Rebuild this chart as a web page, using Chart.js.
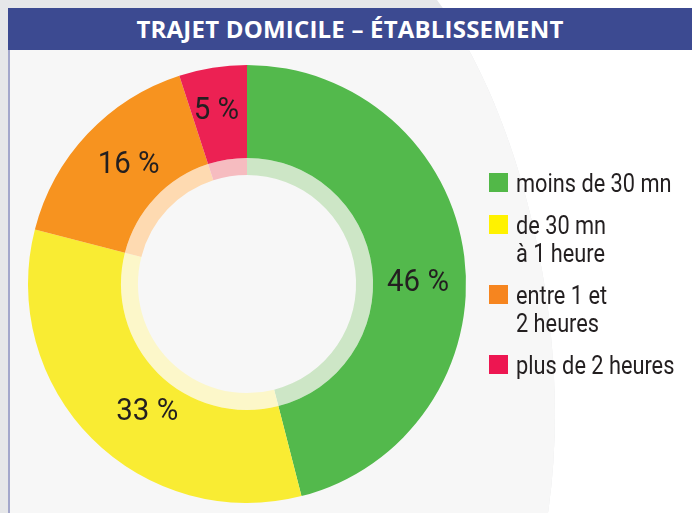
<!DOCTYPE html>
<html lang="fr">
<head>
<meta charset="utf-8">
<title>Trajet domicile – établissement</title>
<script src="https://cdn.jsdelivr.net/npm/chart.js@4/dist/chart.umd.min.js"></script>
<style>
    html, body { margin: 0; padding: 0; background: #ffffff; }
    #page { position: relative; width: 692px; height: 513px; overflow: hidden; }
    #bg { position: absolute; left: 0; top: 0; }
    #header {
        position: absolute; left: 8px; top: 8px; width: 684px; height: 42px;
        background: #3c4a91; color: #ffffff;
        font-family: "Open Sans", sans-serif; font-weight: 700; font-size: 24px;
        line-height: 42px; text-align: center; letter-spacing: 0.2px;
    }
    #chartBox { position: absolute; left: 0; top: 0; width: 692px; height: 513px; }
</style>
</head>
<body>
<div id="page">
    <svg id="bg" width="692" height="513" viewBox="0 0 692 513">
        <defs>
            <clipPath id="panelClip"><rect x="10" y="50" width="682" height="463"/></clipPath>
        </defs>
        <path d="M0,0 L437,0 C520,110 575,330 548,513 L0,513 Z" fill="#e6e7e9"/>
        <path d="M0,0 L437,0 C520,110 575,330 548,513 L0,513 Z" fill="#f7f7f7" clip-path="url(#panelClip)"/>
        <rect x="8" y="50" width="2" height="463" fill="#a3a7cb"/>
    </svg>
    <div id="header">TRAJET DOMICILE – ÉTABLISSEMENT</div>
    <div id="chartBox"><canvas id="trajetChart"></canvas></div>
</div>

<script>
// données
const categories = [["moins de 30 mn"], ["de 30 mn", "à 1 heure"], ["entre 1 et", "2 heures"], ["plus de 2 heures"]];
const shares = [46, 33, 16, 5];
const sliceColors = ["#53b94c", "#f9ec33", "#f7931f", "#ec2153"];
const paleColors = ["#cde6c6", "#fcf7c9", "#fedab1", "#f6bcc0"];
const swatchColors = ["#52b848", "#fff200", "#f6851f", "#ed1651"];

// texte un peu condensé (la police d'origine est étroite)
function drawNarrowText(ctx, text, x, y, scaleX) {
    ctx.save();
    ctx.translate(x, y);
    ctx.scale(scaleX, 1);
    ctx.fillText(text, 0, 0);
    ctx.restore();
}

// pourcentages posés sur les parts
const sliceLabels = {
    id: "sliceLabels",
    afterDatasetsDraw(chart, args, opts) {
        const ctx = chart.ctx;
        const meta = chart.getDatasetMeta(0);
        const values = chart.data.datasets[0].data;
        ctx.save();
        ctx.fillStyle = opts.color;
        ctx.font = opts.font;
        ctx.textAlign = "center";
        ctx.textBaseline = "middle";
        meta.data.forEach((arc, i) => {
            const p = arc.getProps(["x", "y", "startAngle", "endAngle"], true);
            const mid = (p.startAngle + p.endAngle) / 2 + (opts.angleNudge[i] || 0) * Math.PI / 180;
            const r = opts.radius[i];
            drawNarrowText(ctx, values[i] + " %", p.x + Math.cos(mid) * r, p.y + Math.sin(mid) * r, opts.scaleX);
        });
        ctx.restore();
    }
};

// légende à droite, libellés sur deux lignes
const sideLegend = {
    id: "sideLegend",
    afterDraw(chart, args, opts) {
        const ctx = chart.ctx;
        const labels = chart.data.labels;
        ctx.save();
        ctx.font = opts.font;
        ctx.textAlign = "left";
        ctx.textBaseline = "alphabetic";
        let baseline = opts.top;
        labels.forEach((lines, i) => {
            ctx.fillStyle = swatchColors[i];
            ctx.fillRect(opts.left, baseline - opts.box, opts.box, opts.box);
            ctx.fillStyle = opts.color;
            lines.forEach((line, j) => {
                drawNarrowText(ctx, line, opts.textLeft, baseline + j * opts.lineHeight, opts.scaleX);
            });
            baseline += (lines.length - 1) * opts.lineHeight + opts.itemStep;
        });
        ctx.restore();
    }
};

document.addEventListener("DOMContentLoaded", () => {
    const ctx = document.getElementById("trajetChart");

    new Chart(ctx, {
        type: "doughnut",
        data: {
            labels: categories,
            datasets: [
                { data: shares, backgroundColor: sliceColors, borderWidth: 0, weight: 93 },
                { data: shares, backgroundColor: paleColors, borderWidth: 0, weight: 17 }
            ]
        },
        options: {
            responsive: true,
            maintainAspectRatio: false,
            animation: false,
            cutout: "49.8%",
            layout: { padding: { left: 28, top: 65, right: 226, bottom: 10 } },
            events: [],
            plugins: {
                legend: { display: false },
                tooltip: { enabled: false },
                title: { display: false },
                sliceLabels: {
                    color: "#231f20",
                    font: "400 32px Roboto, sans-serif",
                    scaleX: 0.92,
                    radius: [171, 162, 168, 176],
                    angleNudge: [7, -7, 2, -1]
                },
                sideLegend: {
                    color: "#231f20",
                    font: "400 25px Roboto, sans-serif",
                    scaleX: 0.87,
                    left: 489,
                    textLeft: 516,
                    top: 192,
                    box: 19,
                    lineHeight: 28,
                    itemStep: 42
                }
            }
        },
        plugins: [sliceLabels, sideLegend]
    });
});
</script>
</body>
</html>
